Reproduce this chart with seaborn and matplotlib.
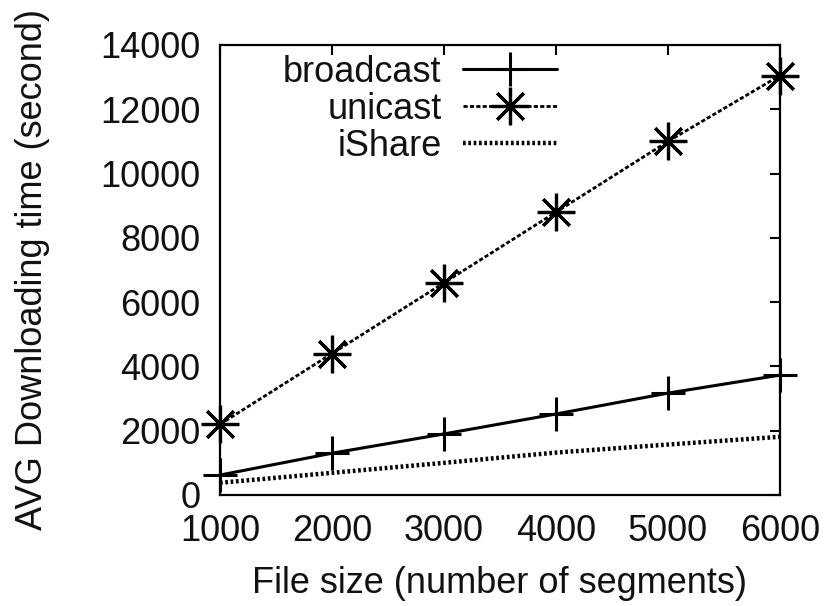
import matplotlib
matplotlib.use("Agg")
import matplotlib.pyplot as plt
import seaborn as sns
import pandas as pd

# File sizes (number of segments)
file_sizes = [1000, 2000, 3000, 4000, 5000, 6000]

# Average downloading time (seconds) per scheme
broadcast = [620, 1300, 1900, 2520, 3170, 3730]
unicast = [2200, 4400, 6600, 8800, 11000, 13050]
ishare = [380, 690, 1000, 1320, 1570, 1810]

x_ticks = [1000, 2000, 3000, 4000, 5000, 6000]
y_ticks = [0, 2000, 4000, 6000, 8000, 10000, 12000, 14000]

sns.set_theme(style="white")
plt.rcParams["font.family"] = ["Liberation Sans", "DejaVu Sans"]
plt.rcParams["text.color"] = "#111111"
plt.rcParams["axes.labelcolor"] = "#111111"
FS = 26
plt.rcParams["font.size"] = FS

fig = plt.figure(figsize=(8.28, 6.06), dpi=100)
ax = fig.add_axes([220 / 828, 1 - 495 / 606, 560 / 828, 450 / 606])

df_b = pd.DataFrame({"size": file_sizes, "time": broadcast})
df_u = pd.DataFrame({"size": file_sizes, "time": unicast})
df_i = pd.DataFrame({"size": file_sizes, "time": ishare})

sns.lineplot(data=df_b, x="size", y="time", ax=ax, color="black", lw=2.2,
             marker="+", markersize=24, markeredgewidth=2.2,
             markeredgecolor="black", label="broadcast", clip_on=False)
sns.lineplot(data=df_u, x="size", y="time", ax=ax, color="black", lw=2.0,
             marker=(8, 2, 0), markersize=27, markeredgewidth=2.3,
             markeredgecolor="black", label="unicast", clip_on=False)
sns.lineplot(data=df_i, x="size", y="time", ax=ax, color="black", lw=1.5,
             label="iShare")

ax.lines[1].set_linestyle((0, (1.5, 0.8)))
ax.lines[2].set_linestyle((0, (0.6, 0.6)))
ax.lines[2].set_linewidth(3.2)

ax.set_xlim(1000, 6000)
ax.set_ylim(0, 14000)
ax.set_xticks(x_ticks)
ax.set_yticks(y_ticks)
ax.set_xticklabels([str(v) for v in x_ticks], fontsize=FS)
ax.set_yticklabels([str(v) for v in y_ticks], fontsize=FS)
ax.tick_params(axis="both", direction="in", length=7, width=1.5, top=True,
               right=True, colors="black", labelcolor="#111111")
ax.tick_params(axis="y", pad=14)
ax.tick_params(axis="x", pad=14)
for s in ax.spines.values():
    s.set_linewidth(1.6)
    s.set_color("black")

ax.set_xlabel("File size (number of segments)", fontsize=FS, labelpad=12)
ax.set_ylabel("AVG Downloading time (second)", fontsize=FS, labelpad=36)

leg = ax.legend(loc="upper right", bbox_to_anchor=(557 / 828, 1 - 55 / 606),
                bbox_transform=fig.transFigure, frameon=False, markerfirst=False,
                fontsize=FS, handlelength=2.6, handletextpad=0.6,
                labelspacing=0.05, borderpad=0, borderaxespad=0)
for line in leg.get_lines():
    line.set_color("black")
    line.set_markeredgecolor("black")

fig.savefig("out.png", dpi=100)
